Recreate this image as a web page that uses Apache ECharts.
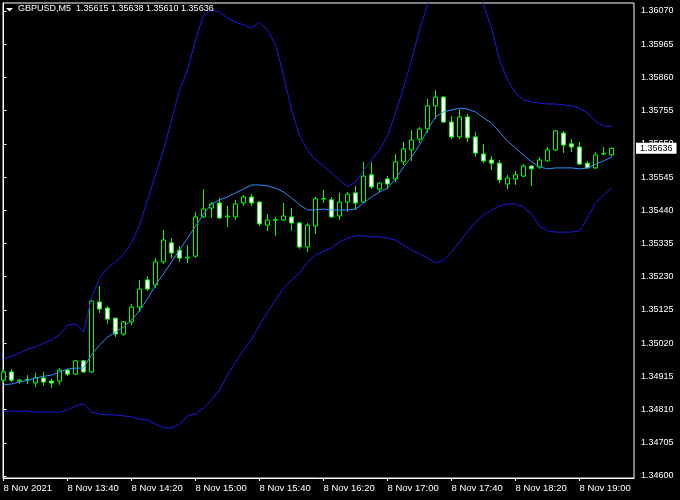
<!DOCTYPE html>
<html><head><meta charset="utf-8">
<script src="https://cdn.jsdelivr.net/npm/echarts@6/dist/echarts.min.js"></script>
<style>html,body{margin:0;padding:0;background:#000}#c{width:680px;height:500px}</style>
</head><body><div id="c"></div>
<script>
const chartTitle = 'GBPUSD,M5  1.35615 1.35638 1.35610 1.35636';
const tickIndex = [0, 8, 16, 24, 32, 40, 48, 56, 64, 72];
const tickLabels = ['8 Nov 2021', '8 Nov 13:40', '8 Nov 14:20', '8 Nov 15:00', '8 Nov 15:40', '8 Nov 16:20', '8 Nov 17:00', '8 Nov 17:40', '8 Nov 18:20', '8 Nov 19:00'];
const priceTicks = [1.34600, 1.34705, 1.34810, 1.34915, 1.35020, 1.35125, 1.35230, 1.35335, 1.35440, 1.35545, 1.35650, 1.35755, 1.35860, 1.35965, 1.36070];
const lastPrice = 1.35636;

const opens = [1.34903,1.34929,1.34900,1.34904,1.34894,1.34910,1.34900,1.34900,1.34935,1.34922,1.34964,1.34929,1.35150,1.35131,1.35099,1.35049,1.35087,1.35134,1.35220,1.35204,1.35277,1.35337,1.35314,1.35289,1.35295,1.35419,1.35447,1.35463,1.35419,1.35419,1.35463,1.35482,1.35466,1.35393,1.35409,1.35409,1.35419,1.35400,1.35324,1.35390,1.35476,1.35473,1.35422,1.35466,1.35495,1.35466,1.35552,1.35507,1.35539,1.35539,1.35593,1.35631,1.35665,1.35697,1.35770,1.35798,1.35719,1.35672,1.35735,1.35672,1.35618,1.35599,1.35589,1.35523,1.35539,1.35548,1.35580,1.35577,1.35596,1.35631,1.35684,1.35650,1.35640,1.35589,1.35574,1.35618,1.35615];
const closes = [1.34929,1.34903,1.34903,1.34905,1.34910,1.34897,1.34894,1.34935,1.34922,1.34964,1.34929,1.35153,1.35128,1.35096,1.35049,1.35087,1.35134,1.35191,1.35191,1.35277,1.35346,1.35305,1.35289,1.35292,1.35419,1.35444,1.35460,1.35416,1.35422,1.35460,1.35482,1.35463,1.35397,1.35409,1.35410,1.35422,1.35400,1.35324,1.35393,1.35476,1.35477,1.35419,1.35466,1.35491,1.35463,1.35548,1.35514,1.35526,1.35523,1.35593,1.35634,1.35662,1.35697,1.35770,1.35798,1.35719,1.35672,1.35735,1.35669,1.35621,1.35596,1.35589,1.35536,1.35542,1.35552,1.35580,1.35571,1.35599,1.35631,1.35691,1.35646,1.35640,1.35586,1.35574,1.35615,1.35619,1.35636];
const lows = [1.34894,1.34897,1.34891,1.34891,1.34881,1.34885,1.34878,1.34888,1.34916,1.34919,1.34926,1.34926,1.35115,1.35081,1.35039,1.35043,1.35077,1.35118,1.35185,1.35194,1.35270,1.35289,1.35277,1.35273,1.35289,1.35416,1.35416,1.35412,1.35387,1.35409,1.35454,1.35454,1.35390,1.35375,1.35359,1.35406,1.35375,1.35318,1.35308,1.35365,1.35463,1.35416,1.35409,1.35435,1.35441,1.35463,1.35507,1.35498,1.35507,1.35529,1.35583,1.35596,1.35653,1.35684,1.35729,1.35716,1.35665,1.35665,1.35656,1.35608,1.35589,1.35567,1.35526,1.35507,1.35520,1.35545,1.35517,1.35571,1.35593,1.35627,1.35621,1.35624,1.35583,1.35572,1.35571,1.35615,1.35610];
const highs = [1.34938,1.34938,1.34907,1.34919,1.34926,1.34929,1.34907,1.34941,1.34938,1.34967,1.34967,1.35156,1.35201,1.35137,1.35099,1.35090,1.35144,1.35220,1.35232,1.35289,1.35378,1.35352,1.35327,1.35330,1.35435,1.35507,1.35466,1.35479,1.35454,1.35473,1.35488,1.35491,1.35469,1.35428,1.35419,1.35463,1.35447,1.35403,1.35400,1.35482,1.35504,1.35482,1.35495,1.35498,1.35517,1.35593,1.35593,1.35529,1.35548,1.35618,1.35656,1.35694,1.35703,1.35792,1.35820,1.35801,1.35738,1.35760,1.35744,1.35687,1.35650,1.35612,1.35599,1.35552,1.35564,1.35586,1.35581,1.35608,1.35640,1.35694,1.35691,1.35665,1.35656,1.35596,1.35624,1.35640,1.35638];

const bandUpper = [1.34970,1.34979,1.34989,1.35001,1.35008,1.35020,1.35030,1.35046,1.35077,1.35081,1.35055,1.35163,1.35226,1.35258,1.35277,1.35299,1.35337,1.35393,1.35473,1.35552,1.35631,1.35725,1.35820,1.35883,1.35978,1.36057,1.36073,1.36067,1.36048,1.36035,1.36026,1.36016,1.36035,1.36010,1.35963,1.35868,1.35757,1.35678,1.35631,1.35599,1.35580,1.35558,1.35536,1.35514,1.35529,1.35567,1.35599,1.35631,1.35675,1.35748,1.35827,1.35915,1.36010,1.36089,1.36168,1.36231,1.36263,1.36247,1.36200,1.36136,1.36089,1.36016,1.35915,1.35852,1.35811,1.35789,1.35782,1.35779,1.35776,1.35776,1.35773,1.35770,1.35763,1.35748,1.35722,1.35706,1.35706];
const bandMiddle = [1.34888,1.34891,1.34897,1.34903,1.34910,1.34915,1.34919,1.34929,1.34938,1.34941,1.34941,1.34983,1.35014,1.35039,1.35055,1.35071,1.35093,1.35122,1.35160,1.35204,1.35239,1.35277,1.35314,1.35352,1.35390,1.35428,1.35460,1.35473,1.35482,1.35495,1.35507,1.35520,1.35520,1.35517,1.35510,1.35498,1.35479,1.35457,1.35441,1.35441,1.35444,1.35441,1.35441,1.35441,1.35444,1.35463,1.35482,1.35498,1.35510,1.35539,1.35577,1.35608,1.35646,1.35694,1.35735,1.35751,1.35757,1.35763,1.35760,1.35751,1.35732,1.35716,1.35687,1.35659,1.35637,1.35615,1.35593,1.35577,1.35571,1.35574,1.35574,1.35574,1.35571,1.35574,1.35586,1.35596,1.35608];
const bandLower = [1.34805,1.34805,1.34805,1.34805,1.34802,1.34802,1.34802,1.34802,1.34809,1.34821,1.34828,1.34802,1.34796,1.34793,1.34793,1.34790,1.34787,1.34780,1.34777,1.34764,1.34752,1.34752,1.34764,1.34790,1.34796,1.34815,1.34840,1.34872,1.34919,1.34960,1.34998,1.35030,1.35077,1.35118,1.35156,1.35194,1.35220,1.35242,1.35277,1.35299,1.35311,1.35321,1.35340,1.35352,1.35359,1.35359,1.35356,1.35356,1.35352,1.35346,1.35330,1.35314,1.35302,1.35289,1.35273,1.35283,1.35308,1.35340,1.35371,1.35403,1.35425,1.35441,1.35454,1.35460,1.35460,1.35450,1.35428,1.35390,1.35375,1.35371,1.35371,1.35371,1.35375,1.35416,1.35463,1.35488,1.35510];

const candles = opens.map((o, i) => [i, o, closes[i], lows[i], highs[i]]);
const lineData = arr => arr.map((v, i) => [i, v]);

const chart = echarts.init(document.getElementById('c'), null, {renderer: 'canvas'});
const FONT = 'Liberation Sans';
chart.setOption({
  backgroundColor: '#000000',
  animation: false,
  title: {
    text: chartTitle, left: 18, top: 4, padding: 0,
    textStyle: {color: '#ffffff', fontSize: 9, fontWeight: 'normal', fontFamily: FONT}
  },
  graphic: [{
    type: 'polygon', shape: {points: [[6, 8], [13, 8], [9.5, 11.5]]},
    style: {fill: '#ffffff'}
  }],
  grid: {left: 3, top: 3, right: 46, bottom: 22, show: true, borderColor: '#ffffff', borderWidth: 1, backgroundColor: 'transparent'},
  xAxis: {
    type: 'value', min: -0.0625, max: 78.8125,
    axisLine: {show: true, lineStyle: {color: '#ffffff'}},
    axisTick: {show: true, length: 3, customValues: tickIndex, lineStyle: {color: '#ffffff'}},
    axisLabel: {
      customValues: tickIndex, color: '#ffffff', fontSize: 9.5, fontFamily: FONT,
      align: 'left', margin: 5, showMinLabel: true, showMaxLabel: true,
      formatter: v => tickLabels[tickIndex.indexOf(v)] || ''
    },
    splitLine: {show: false}
  },
  yAxis: [{
    type: 'value', position: 'right', min: 1.3459368, max: 1.3609530, scale: true,
    axisLine: {show: true, lineStyle: {color: '#ffffff'}},
    axisTick: {show: true, length: 3, inside: false, customValues: priceTicks, lineStyle: {color: '#ffffff'}},
    axisLabel: {customValues: priceTicks, color: '#ffffff', fontSize: 9, fontFamily: FONT, margin: 7,
      formatter: v => v.toFixed(5)},
    splitLine: {show: false}
  }, {
    type: 'value', position: 'right', min: 1.3459368, max: 1.3609530, scale: true,
    axisLine: {show: false}, axisTick: {show: false}, splitLine: {show: false},
    axisLabel: {customValues: [lastPrice], color: '#000000', backgroundColor: '#ffffff',
      fontSize: 9, fontFamily: FONT, margin: 2, padding: [1, 4, 0, 4], lineHeight: 10,
      formatter: v => v.toFixed(5)},
    z: 10
  }],
  series: [{
    type: 'candlestick', name: 'GBPUSD', data: candles, barWidth: 5,
    dimensions: ['i', 'open', 'close', 'lowest', 'highest'],
    encode: {x: 'i', y: ['open', 'close', 'lowest', 'highest']},
    itemStyle: {color: '#000000', color0: '#ffffff', borderColor: '#00ff00', borderColor0: '#00ff00', borderWidth: 1},
    z: 2
  }, {
    type: 'line', name: 'Upper', data: lineData(bandUpper), showSymbol: false, symbol: 'none',
    lineStyle: {color: '#1a1ae6', width: 1}, z: 3
  }, {
    type: 'line', name: 'Middle', data: lineData(bandMiddle), showSymbol: false, symbol: 'none',
    lineStyle: {color: '#2f8fff', width: 1}, z: 3
  }, {
    type: 'line', name: 'Lower', data: lineData(bandLower), showSymbol: false, symbol: 'none',
    lineStyle: {color: '#1a1ae6', width: 1}, z: 3
  }]
});
</script></body></html>
